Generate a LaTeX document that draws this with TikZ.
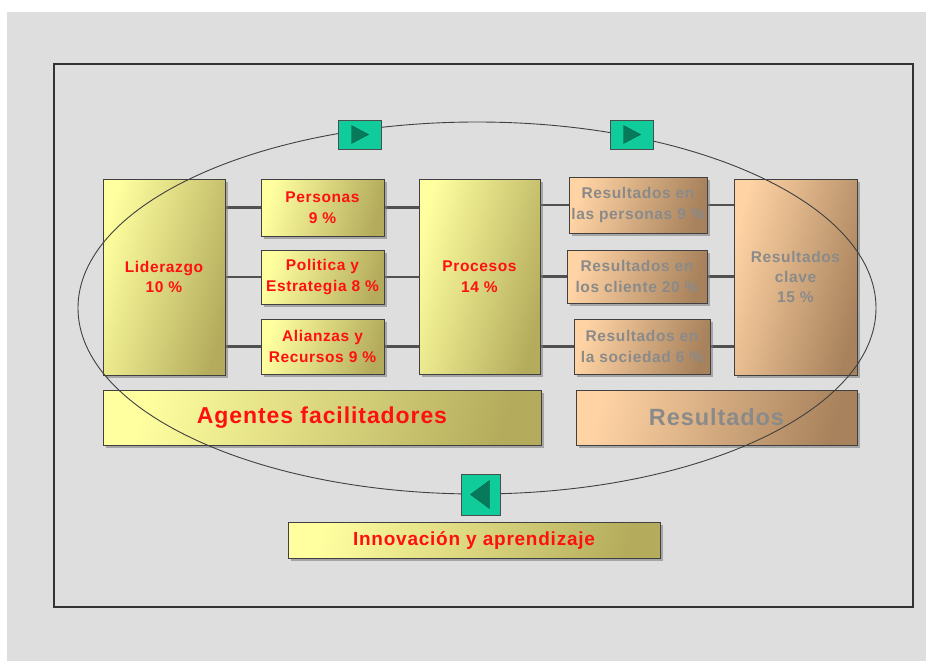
\documentclass[tikz,border=0pt]{standalone}
\usepackage{fontspec}
\setmainfont{Liberation Sans}[LetterSpace=4]
\usetikzlibrary{shadows}
\definecolor{bggray}{HTML}{DEDEDE}
\definecolor{ylight}{HTML}{FFFFA0}
\definecolor{ydark}{HTML}{B4AC5C}
\definecolor{tlight}{HTML}{FFD3A4}
\definecolor{tdark}{HTML}{A8825C}
\definecolor{txtred}{HTML}{FF1010}
\definecolor{txtgray}{HTML}{8A8A8A}
\definecolor{tealbox}{HTML}{10CC9A}
\definecolor{tealtri}{HTML}{067A5A}
\definecolor{linegray}{HTML}{505050}
\pgfdeclarelayer{back}
\pgfdeclarelayer{bg}
\pgfsetlayers{back,bg,main}
\tikzset{
  boxbase/.style={draw=black!75, line width=0.8pt, inner sep=1pt, align=center,
    drop shadow={shadow xshift=3pt, shadow yshift=-3pt, fill=black!50, opacity=0.6},
    font=\bfseries\fontsize{15.5}{20.5}\selectfont},
  ybox/.style={boxbase, left color=ylight, right color=ydark, shading angle=75, text=txtred},
  tbox/.style={boxbase, left color=tlight, right color=tdark, shading angle=75, text=txtgray},
  conn/.style={draw=linegray, line width=2.6pt},
  arrbox/.style={draw=black!70, fill=tealbox, line width=1pt, minimum width=43pt, minimum height=29pt, inner sep=0pt},
  tri/.style={fill=tealtri, draw=tealtri!80!black},
}
\begin{document}
\begin{tikzpicture}[x=1pt,y=-1pt]
\useasboundingbox (0,0) rectangle (926,661);
\begin{pgfonlayer}{back}
\fill[white] (0,0) rectangle (926,661);
\fill[bggray] (7,12) rectangle (926,661);
\draw[black!80, line width=1.2pt] (54,64) rectangle (913,607);
\end{pgfonlayer}

% main boxes
\node[ybox, minimum width=122pt, minimum height=196pt] (lid) at (164,277) {Liderazgo\\10 \%};
\node[ybox, minimum width=123pt, minimum height=57pt] (per) at (322.5,207.5) {Personas\\9 \%};
\node[ybox, minimum width=123pt, minimum height=54pt] (pol) at (322.5,277) {Politica y\\Estrategia 8 \%};
\node[ybox, minimum width=123pt, minimum height=55pt] (ali) at (322.5,346.5) {Alianzas y\\Recursos 9 \%};
\node[ybox, minimum width=121pt, minimum height=195pt] (pro) at (479.5,276.5) {Procesos\\14 \%};
\node[tbox, minimum width=138pt, minimum height=56pt] (rp) at (638,205) {Resultados en\\las personas 9 \%};
\node[tbox, minimum width=140pt, minimum height=53pt] (rc) at (637,276.5) {Resultados en\\los cliente 20 \%};
\node[tbox, minimum width=136pt, minimum height=55pt] (rs) at (642,346.5) {Resultados en\\la sociedad 6 \%};
\node[tbox, minimum width=123pt, minimum height=196pt, font=\bfseries\fontsize{15.5}{20}\selectfont] (rk) at (795.5,277) {Resultados\\clave\\15 \%};

\node[ybox, minimum width=438pt, minimum height=55pt, font=\bfseries\fontsize{23}{26}\selectfont] (agf) at (322,417.5) {Agentes facilitadores};
\node[tbox, minimum width=281pt, minimum height=55pt, font=\bfseries\fontsize{23.5}{26}\selectfont] (res) at (716.5,417.5) {Resultados};
\node[ybox, minimum width=372pt, minimum height=36pt, font=\bfseries\fontsize{19}{22}\selectfont] (inn) at (474,540) {Innovación y aprendizaje};

% connectors
\begin{pgfonlayer}{bg}
\draw[conn] (lid.east |- per.west) -- (per.west);
\draw[conn] (lid.east |- pol.west) -- (pol.west);
\draw[conn] (lid.east |- ali.west) -- (ali.west);
\draw[conn] (per.east) -- (pro.west |- per.east);
\draw[conn] (pol.east) -- (pro.west |- pol.east);
\draw[conn] (ali.east) -- (pro.west |- ali.east);
\draw[conn] (pro.east |- rp.west) -- (rp.west);
\draw[conn] (pro.east |- rc.west) -- (rc.west);
\draw[conn] (pro.east |- rs.west) -- (rs.west);
\draw[conn] (rp.east) -- (rk.west |- rp.east);
\draw[conn] (rc.east) -- (rk.west |- rc.east);
\draw[conn] (rs.east) -- (rk.west |- rs.east);
\end{pgfonlayer}

% cycle ellipse
\draw[black!75, line width=0.9pt] (477,308) ellipse [x radius=399, y radius=186];

% arrow boxes
\node[arrbox] (a1) at (359.5,134.5) {};
\node[arrbox] (a2) at (631.5,134.5) {};
\node[arrbox, minimum width=39pt, minimum height=41pt] (a3) at (480.5,494.5) {};
\fill[tri] ([xshift=-8pt,yshift=9pt]a1.center) -- ([xshift=9pt]a1.center) -- ([xshift=-8pt,yshift=-9pt]a1.center) -- cycle;
\fill[tri] ([xshift=-8pt,yshift=9pt]a2.center) -- ([xshift=9pt]a2.center) -- ([xshift=-8pt,yshift=-9pt]a2.center) -- cycle;
\fill[tri] ([xshift=9pt,yshift=14pt]a3.center) -- ([xshift=-10pt]a3.center) -- ([xshift=9pt,yshift=-14pt]a3.center) -- cycle;
\end{tikzpicture}
\end{document}
